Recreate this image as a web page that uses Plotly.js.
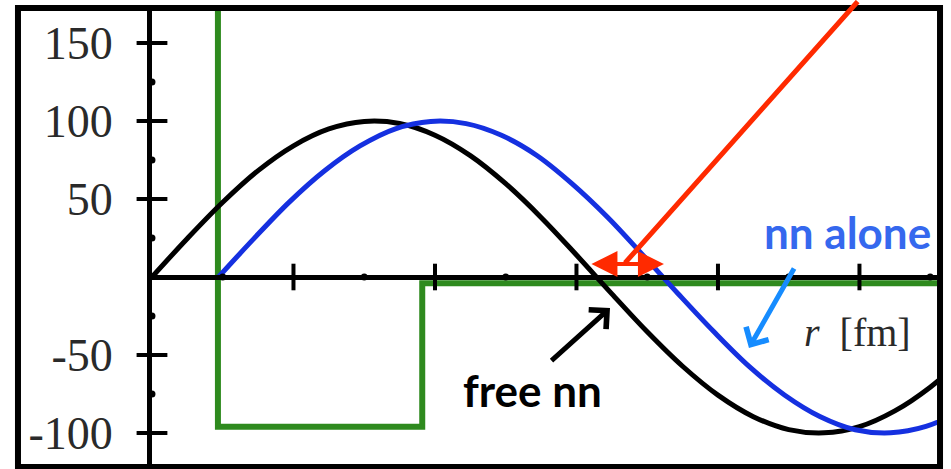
<!DOCTYPE html>
<html>
<head>
<meta charset="utf-8">
<script src="https://cdn.plot.ly/plotly-3.0.1.min.js"></script>
<style>
  html, body { margin: 0; padding: 0; background: #fff; }
  #chart { width: 951px; height: 469px; }
</style>
</head>
<body>
<div id="chart"></div>
<script>
// Radial distance r [fm] and wave functions (arbitrary units)
const rFree = [0, 0.25, 0.5, 0.75, 1.0, 1.25, 1.5, 1.75, 2.0, 2.25, 2.5, 2.75,
               3.0, 3.25, 3.5, 3.75, 4.0, 4.25, 4.5, 4.75, 5.0, 5.25, 5.5, 5.75];
const psiFree = [0, 24.7, 47.9, 68.2, 84.1, 94.9, 99.7, 98.4, 90.9, 77.8, 59.8, 38.2,
                 14.1, -10.8, -35.1, -57.2, -75.7, -89.5, -97.8, -99.9, -95.9, -85.8, -70.6, -50.8];

const rAlone = [0.47, 0.72, 0.97, 1.22, 1.47, 1.72, 1.97, 2.22, 2.47, 2.72, 2.97, 3.22,
                3.47, 3.72, 3.97, 4.22, 4.47, 4.72, 4.97, 5.22, 5.47, 5.72];
const psiAlone = [0, 24.6, 48.0, 68.1, 84.0, 95.0, 99.7, 98.3, 90.8, 77.9, 59.7, 38.3,
                  14.0, -10.9, -35.0, -57.3, -75.6, -89.4, -97.9, -99.9, -95.8, -85.9];

// Hard-core square-well potential
const rWell = [0.466, 0.466, 1.91, 1.91, 5.6];
const vWell = [175, -96, -96, -4, -4];

// Axis ticks
const xMajorTicks = [1, 2, 3, 4, 5];
const xMinorTicks = [0.5, 1.5, 2.5, 3.5, 4.5, 5.5];
const yTickVals = [-100, -50, 50, 100, 150];
const yTickText = ['-100', '-50', '50', '100', '150'];
const yMinorTicks = [-75, -25, 25, 75, 125];

const xRange = [0, 5.548];
const yRange = [-120.5, 170.5];

const zeroFrac = (0 - yRange[0]) / (yRange[1] - yRange[0]);

const traces = [
  { x: rWell, y: vWell, mode: 'lines', line: { color: '#2e8a1e', width: 6 }, hoverinfo: 'skip' },
  { x: rFree, y: psiFree, mode: 'lines', line: { color: '#000000', width: 5, shape: 'spline', smoothing: 1 }, hoverinfo: 'skip' },
  { x: rAlone, y: psiAlone, mode: 'lines', line: { color: '#1530e0', width: 5, shape: 'spline', smoothing: 1 }, hoverinfo: 'skip' },
  // x-axis tick marks
  { x: xMajorTicks, y: xMajorTicks.map(() => 0), mode: 'markers', cliponaxis: false,
    marker: { symbol: 'line-ns', size: 19, line: { color: '#000', width: 4 } }, hoverinfo: 'skip' },
  { x: xMinorTicks, y: xMinorTicks.map(() => 0), mode: 'markers', cliponaxis: false,
    marker: { symbol: 'circle', size: 7, color: '#000' }, hoverinfo: 'skip' },
  // y-axis tick marks
  { x: yTickVals.map(() => 0), y: yTickVals, mode: 'markers', cliponaxis: false,
    marker: { symbol: 'line-ew', size: 22, line: { color: '#000', width: 4 } }, hoverinfo: 'skip' },
  { x: yMinorTicks.map(() => 0), y: yMinorTicks, mode: 'markers', cliponaxis: false,
    marker: { symbol: 'circle', size: 7, color: '#000' }, hoverinfo: 'skip' }
];

const layout = {
  width: 951,
  height: 469,
  margin: { l: 21, r: 14, t: 11, b: 4 },
  paper_bgcolor: '#fff',
  plot_bgcolor: '#fff',
  showlegend: false,
  xaxis: {
    domain: [0.143, 1],
    range: xRange,
    anchor: 'free',
    position: zeroFrac,
    showline: true, linecolor: '#000', linewidth: 5,
    showgrid: false, zeroline: false, ticks: '', showticklabels: false
  },
  yaxis: {
    domain: [0, 1],
    range: yRange,
    anchor: 'x',
    showline: true, linecolor: '#000', linewidth: 5,
    showgrid: false, zeroline: false, ticks: '',
    tickvals: yTickVals, ticktext: yTickText,
    ticklabelstandoff: 25,
    tickfont: { family: 'Liberation Serif, DejaVu Serif, serif', size: 46, color: '#2a2a2a' }
  },
  shapes: [
    { type: 'rect', xref: 'paper', yref: 'paper',
      x0: -0.0033, x1: 1.0033, y0: -0.0044, y1: 1.0066,
      line: { color: '#000', width: 6 } }
  ],
  annotations: [
    { x: 4.989, y: -35.3, xref: 'x', yref: 'y', showarrow: false,
      text: '<i>r</i>\u2002[fm]',
      font: { family: 'Liberation Serif, DejaVu Serif, serif', size: 40, color: '#2a2a2a' } },
    { x: 4.919, y: 28.8, xref: 'x', yref: 'y', showarrow: false, text: '<b>nn alone</b>',
      font: { family: 'Lato, sans-serif', size: 44, color: '#3568ee' } },
    { x: 2.686, y: -72.4, xref: 'x', yref: 'y', showarrow: false, text: '<b>free nn</b>',
      font: { family: 'Lato, sans-serif', size: 44, color: '#000' } },
    // arrow pointing at the shifted wave function
    { x: 4.219, y: -45.5, ax: 4.544, ay: 6.4, xref: 'x', yref: 'y', axref: 'x', ayref: 'y',
      text: '', showarrow: true, arrowhead: 4, arrowsize: 1, arrowwidth: 5,
      arrowcolor: '#168cff', standoff: 0, startstandoff: 0 },
    // arrow pointing at the free wave function
    { x: 3.237, y: -19.9, ax: 2.813, ay: -54.5, xref: 'x', yref: 'y', axref: 'x', ayref: 'y',
      text: '', showarrow: true, arrowhead: 4, arrowsize: 1, arrowwidth: 5,
      arrowcolor: '#000', standoff: 0, startstandoff: 0 },
    // phase shift between the two node positions
    { x: 3.618, y: 8.3, ax: 3.095, ay: 8.3, xref: 'x', yref: 'y', axref: 'x', ayref: 'y',
      text: '', showarrow: true, arrowhead: 2, startarrowhead: 2, arrowside: 'end+start',
      arrowsize: 1.3, startarrowsize: 1.3, arrowwidth: 4, arrowcolor: '#ff2a00',
      standoff: 0, startstandoff: 0 },
    // pointer line to the phase shift
    { x: 3.343, y: 9.0, xref: 'x', yref: 'y', ax: 234, ay: -274,
      text: '', showarrow: true, arrowhead: 0, arrowwidth: 5, arrowcolor: '#ff2a00',
      standoff: 0, startstandoff: 0 }
  ]
};

Plotly.newPlot('chart', traces, layout, { staticPlot: true, displayModeBar: false });
</script>
</body>
</html>
